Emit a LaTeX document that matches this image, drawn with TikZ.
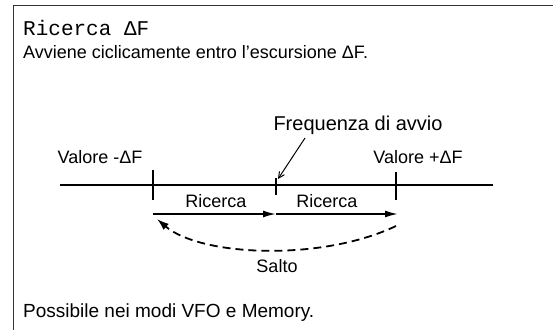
\documentclass[tikz,border=0pt]{standalone}
\usepackage{fontspec}
\setmainfont{Liberation Sans}
\setmonofont{Liberation Mono}
\usetikzlibrary{arrows.meta}

\begin{document}
\begin{tikzpicture}[x=1pt,y=-1pt,>=Latex,
 txt/.style={font=\fontsize{18}{20}\selectfont,inner sep=0pt,anchor=base},
 ttl/.style={font=\ttfamily\fontsize{21}{24}\selectfont,inner sep=0pt,anchor=base west},
 axis/.style={line width=1.8pt},
 tick/.style={line width=1.6pt},
 move/.style={-{Latex[length=13pt,width=7pt]},line width=1.8pt},
 jump/.style={-{Latex[length=12pt,width=8pt]},line width=1.8pt,dash pattern=on 8pt off 5pt},
 pointer/.style={-{Straight Barb[length=6pt,width=6pt]},line width=1pt}]
\useasboundingbox (0,0) rectangle (553,330);
\draw[line width=1pt,black!80] (553,5) -- (13,5) -- (13,330);
\node[ttl] (title) at (23,35) {Ricerca ΔF};
\node[txt,anchor=base west] (intro) at (23,58) {Avviene ciclicamente entro l'escursione ΔF.};
\node[txt,anchor=base west,font=\fontsize{19}{21}\selectfont] (modes) at (23,317) {Possibile nei modi VFO e Memory.};
\coordinate (axl) at (60,185);
\coordinate (axr) at (493,185);
\coordinate (lo) at (153,185);
\coordinate (st) at (276,185);
\coordinate (hi) at (396,185);
\draw[axis] (axl) -- (axr);
\draw[tick] (lo) ++(0,-15) -- ++(0,30);
\draw[tick] (st) ++(0,-7) -- ++(0,17);
\draw[tick] (hi) ++(0,-13) -- ++(0,28);
\node[txt] (vmin) at (100,163) {Valore -ΔF};
\node[txt] (vmax) at (418,163) {Valore +ΔF};
\node[txt,font=\fontsize{20}{22}\selectfont] (freq) at (358,130) {Frequenza di avvio};
\coordinate (fa) at (305,138);
\coordinate (fb) at (278,179);
\draw[pointer] (fa) -- (fb);
\coordinate (r0) at (153,214);
\coordinate (r1) at (276,214);
\coordinate (r2) at (398,214);
\draw[move] (r0) -- (r1);
\draw[move] (r1) -- (r2);
\node[txt] (ric1) at (216,207) {Ricerca};
\node[txt] (ric2) at (327,207) {Ricerca};
\coordinate (j0) at (396,226);
\coordinate (j1) at (157,219);
\draw[jump] (j0) .. controls (320,262) and (200,256) .. (j1);
\node[txt] (salto) at (277,272) {Salto};
\end{tikzpicture}
\end{document}
